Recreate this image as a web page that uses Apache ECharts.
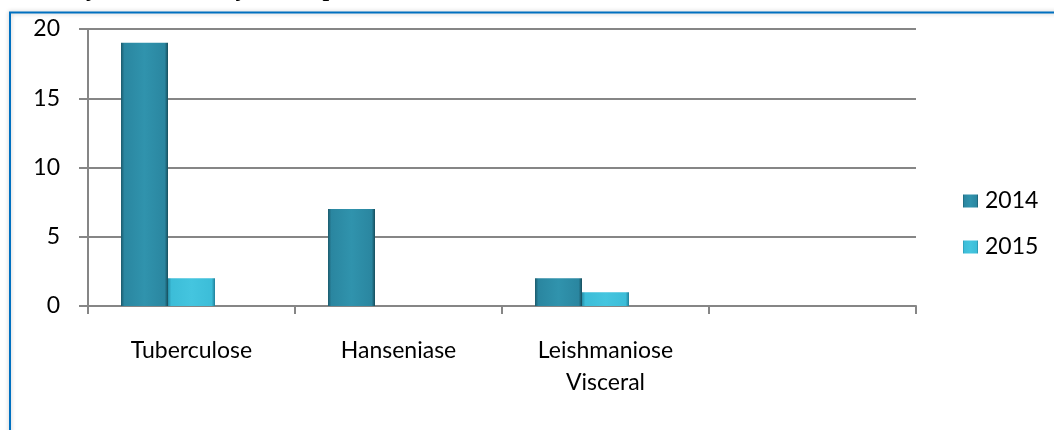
<!DOCTYPE html>
<html>
<head>
<meta charset="utf-8">
<script src="https://cdn.jsdelivr.net/npm/echarts@6/dist/echarts.min.js"></script>
<style>
  html, body { margin: 0; padding: 0; background: #fff; }
  #chart { width: 1054px; height: 430px; }
</style>
</head>
<body>
<div id="chart"></div>
<script>
// Data
const categories = ["Tuberculose", "Hanseniase", "Leishmaniose\nVisceral", ""];
const seriesNames = ["2014", "2015"];
const values2014 = [19, 7, 2, null];
const values2015 = [2, 0, 1, null];
const yTicks = { min: 0, max: 20, interval: 5 };
const titleText = "Doenças de Notificação Compulsória";

const font = "Lato, 'Liberation Sans', sans-serif";
const axisGray = "#868686";

// horizontal gradients to fake the bevelled Excel columns
const grad2014 = {
  type: "linear", x: 0, y: 0, x2: 1, y2: 0,
  colorStops: [
    { offset: 0, color: "#1b5a6c" },
    { offset: 0.07, color: "#2a86a0" },
    { offset: 0.5, color: "#3093ad" },
    { offset: 0.93, color: "#2a86a0" },
    { offset: 1, color: "#164d5c" },
  ],
};
const grad2015 = {
  type: "linear", x: 0, y: 0, x2: 1, y2: 0,
  colorStops: [
    { offset: 0, color: "#2790aa" },
    { offset: 0.07, color: "#3cbdd8" },
    { offset: 0.5, color: "#44c5df" },
    { offset: 0.93, color: "#3cbdd8" },
    { offset: 1, color: "#20809a" },
  ],
};

const chart = echarts.init(document.getElementById("chart"), null, { renderer: "canvas" });

chart.setOption({
  animation: false,
  backgroundColor: "#fff",
  textStyle: { fontFamily: font },
  graphic: [
    {
      // frame of the embedded chart (top and left edges visible)
      type: "rect",
      shape: { x: 10, y: 12.5, width: 1100, height: 500 },
      style: {
        fill: "none",
        stroke: "#0070c0",
        lineWidth: 2,
        shadowBlur: 4,
        shadowColor: "rgba(0,0,0,0.25)",
      },
      z: -1,
    },
    {
      // title clipped by the top of the picture
      type: "text",
      left: 30,
      top: -22,
      style: {
        text: titleText,
        font: "bold 24px 'Liberation Serif', serif",
        fill: "#000",
      },
    },
  ],
  grid: { left: 88, right: 138, top: 29, bottom: 124 },
  legend: {
    data: seriesNames,
    orient: "vertical",
    left: 963,
    top: 189,
    padding: 0,
    itemWidth: 15,
    itemHeight: 13,
    itemGap: 22,
    icon: "rect",
    textStyle: { fontSize: 23, lineHeight: 24, color: "#000", fontFamily: font, padding: [0, 0, 0, 2] },
  },
  xAxis: {
    type: "category",
    data: categories,
    axisLine: { lineStyle: { color: axisGray, width: 2 } },
    axisTick: { show: true, length: 8, lineStyle: { color: axisGray, width: 2 } },
    axisLabel: {
      fontSize: 23,
      color: "#000",
      margin: 29,
      lineHeight: 32,
      interval: 0,
    },
  },
  yAxis: {
    type: "value",
    min: yTicks.min,
    max: yTicks.max,
    interval: yTicks.interval,
    axisLine: { show: true, lineStyle: { color: axisGray, width: 2 } },
    axisTick: { show: true, length: 9, lineStyle: { color: axisGray, width: 2 } },
    axisLabel: { fontSize: 23, color: "#000", margin: 28 },
    splitLine: { lineStyle: { color: axisGray, width: 2 } },
  },
  series: [
    {
      name: seriesNames[0],
      type: "bar",
      data: values2014,
      barWidth: 47,
      barGap: "0%",
      itemStyle: { color: grad2014 },
    },
    {
      name: seriesNames[1],
      type: "bar",
      data: values2015,
      barWidth: 47,
      barGap: "0%",
      itemStyle: { color: grad2015 },
    },
    {
      // empty slot: Excel leaves room for a third column in each group
      name: "spacer",
      type: "bar",
      data: [],
      barWidth: 47,
      barGap: "0%",
    },
  ],
});
</script>
</body>
</html>
